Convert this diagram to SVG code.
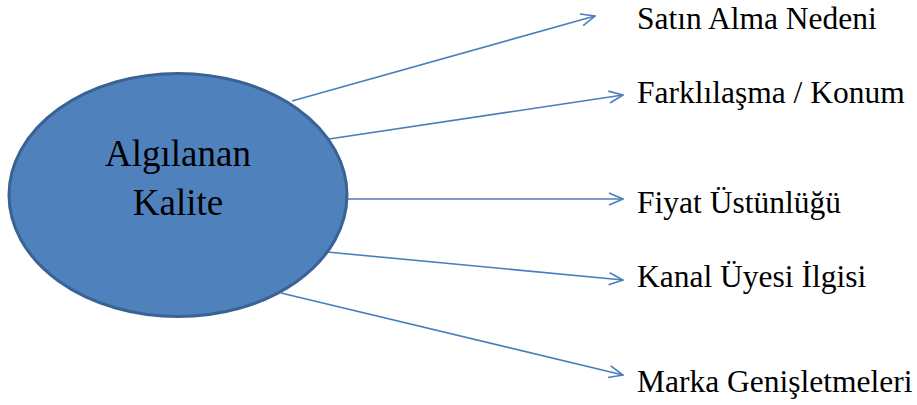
<svg xmlns="http://www.w3.org/2000/svg" width="917" height="405" viewBox="0 0 917 405">
  <defs>
    <marker id="arrow" viewBox="0 0 16 14" refX="15" refY="7" markerWidth="16" markerHeight="14" markerUnits="userSpaceOnUse" orient="auto">
      <path d="M1,1 L15,7 L1,13" fill="none" stroke="#4a7ebb" stroke-width="1.6"/>
    </marker>
  </defs>
  <style>
    .link { stroke: #4a7ebb; stroke-width: 1.6; fill: none; marker-end: url(#arrow); }
    text { font-family: 'Liberation Serif', 'DejaVu Serif', 'Times New Roman', serif; fill: #000; }
    .label { font-size: 31.5px; }
    .core { font-size: 37px; text-anchor: middle; }
  </style>

  <!-- connectors -->
  <g id="connectors">
    <line class="link" x1="292" y1="101" x2="595" y2="16"/>
    <line class="link" x1="329" y1="139" x2="623" y2="95"/>
    <line class="link" x1="348" y1="199" x2="623" y2="199"/>
    <line class="link" x1="327" y1="252" x2="623" y2="280"/>
    <line class="link" x1="281" y1="293" x2="623" y2="375"/>
  </g>

  <!-- central node -->
  <g id="algilanan-kalite">
    <ellipse cx="178" cy="195" rx="169" ry="121.5" fill="#4f81bd" stroke="#3a6294" stroke-width="3"/>
    <text class="core" x="178" y="166">Algılanan</text>
    <text class="core" x="178" y="215">Kalite</text>
  </g>

  <!-- outcome labels -->
  <g id="satin-alma-nedeni"><text class="label" x="637" y="29">Satın Alma Nedeni</text></g>
  <g id="farklilasma-konum"><text class="label" x="637" y="103">Farklılaşma / Konum</text></g>
  <g id="fiyat-ustunlugu"><text class="label" x="637" y="213">Fiyat Üstünlüğü</text></g>
  <g id="kanal-uyesi-ilgisi"><text class="label" x="637" y="287">Kanal Üyesi İlgisi</text></g>
  <g id="marka-genisletmeleri"><text class="label" x="637" y="392">Marka Genişletmeleri</text></g>
</svg>
